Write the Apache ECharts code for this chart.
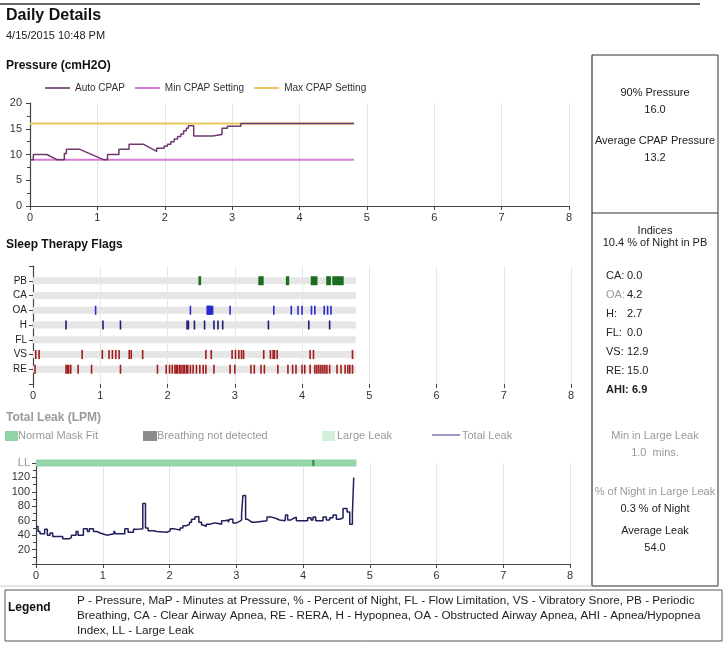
<!DOCTYPE html>
<html><head><meta charset="utf-8">
<script src="https://cdn.jsdelivr.net/npm/echarts@6/dist/echarts.min.js"></script>
<style>html,body{margin:0;padding:0;background:#fff}#c{width:728px;height:649px}</style>
</head><body><div id="c"></div>
<script>
// ---------- data ----------
const hourTicks = [0,1,2,3,4,5,6,7,8];
const autoCpap = [[0,9],[0.05,9],[0.05,10],[0.25,10],[0.40,9],[0.51,9],[0.51,10.2],[0.54,10.2],[0.54,11],[0.74,11],[1.09,9],[1.15,9],[1.15,10],[1.32,10],[1.32,11],[1.47,11],[1.47,12],[1.68,12],[1.88,10.6],[1.88,11.2],[1.99,11.2],[1.99,11.6],[2.04,11.6],[2.04,12.0],[2.09,12.0],[2.09,12.5],[2.14,12.5],[2.14,13.0],[2.19,13.0],[2.19,13.5],[2.24,13.5],[2.24,14.0],[2.28,14.0],[2.28,14.6],[2.32,14.6],[2.32,15.1],[2.35,15.1],[2.35,15.6],[2.43,15.6],[2.43,13.6],[2.71,13.6],[2.71,13.9],[2.85,13.9],[2.85,15.1],[2.93,15.1],[2.93,15.5],[3.13,15.5],[3.13,16],[4.81,16]];
const minCpap = [[0,9],[4.81,9]];
const maxCpap = [[0,16],[4.81,16]];

const flagRows = ['', 'RE','VS','FL','H','OA','CA','PB',' '];
const sessionSpan = [0, 4.8];
const pbEvents = [[2.46,2.50],[3.35,3.43],[3.76,3.81],[4.13,4.23],[4.36,4.43],[4.45,4.62]];
const oaEvents = [0.93,2.34,2.59,2.60,2.61,2.62,2.63,2.64,2.65,2.67,2.93,3.58,3.84,3.94,4.00,4.14,4.19,4.33,4.38,4.43];
const hEvents = [0.49,1.04,1.30,2.29,2.31,2.40,2.55,2.69,2.75,2.82,3.50,4.10,4.41];
const vsEvents = [0.04,0.09,0.73,1.03,1.13,1.18,1.23,1.28,1.43,1.46,1.63,2.57,2.65,2.96,3.01,3.06,3.10,3.13,3.43,3.53,3.57,3.59,3.63,4.12,4.17,4.75];
const reEvents = [0.03,0.49,0.51,0.53,0.56,0.67,0.87,1.30,1.85,1.98,2.03,2.07,2.11,2.13,2.15,2.18,2.20,2.23,2.25,2.28,2.30,2.34,2.38,2.43,2.48,2.53,2.57,2.69,2.93,3.00,3.24,3.29,3.39,3.44,3.64,3.79,3.86,3.91,4.00,4.04,4.12,4.19,4.22,4.25,4.28,4.31,4.34,4.37,4.41,4.52,4.58,4.64,4.68,4.71,4.75];

const leakTicks = [0,20,40,60,80,100,120,140];
const largeLeakLevel = 140;
const largeLeakEvents = [[4.14,4.17]];
const totalLeak = [[0,52],[0.03,45],[0.06,42],[0.13,48],[0.17,40],[0.21,43],[0.25,38],[0.40,35],[0.50,37],[0.53,40],[0.60,45],[0.63,40],[0.71,49],[0.77,45],[0.80,49],[0.86,45],[0.91,43],[0.96,41],[1.03,40],[1.06,42],[1.17,46],[1.19,42],[1.33,49],[1.38,44],[1.46,48],[1.51,49],[1.60,84],[1.64,50],[1.68,46],[1.76,45],[1.81,44],[1.96,46],[2.01,49],[2.06,48],[2.11,47],[2.16,50],[2.20,53],[2.25,55],[2.30,58],[2.33,62],[2.38,65],[2.40,66],[2.44,58],[2.48,54],[2.51,52],[2.55,55],[2.60,57],[2.68,56],[2.73,55],[2.78,60],[2.83,61],[2.88,58],[2.90,62],[2.95,57],[3.00,59],[3.05,61],[3.08,70],[3.10,95],[3.14,62],[3.17,60],[3.20,58],[3.23,56],[3.25,58],[3.28,60],[3.46,65],[3.53,63],[3.60,61],[3.65,60],[3.73,62],[3.74,68],[3.77,61],[3.82,63],[3.85,65],[3.90,60],[4.07,64],[4.12,61],[4.15,65],[4.19,60],[4.30,65],[4.35,61],[4.40,64],[4.45,68],[4.50,62],[4.55,64],[4.60,77],[4.66,72],[4.70,55],[4.74,70],[4.76,120],[4.77,120]];

const pressureStats = [['90% Pressure','16.0'],['Average CPAP Pressure','13.2']];
const pbPercentText = '10.4 % of Night in PB';
const indexNames = ['CA','OA','H','FL','VS','RE','AHI'];
const indexValues = ['0.0','4.2','2.7','0.0','12.9','15.0','6.9'];
const leakStats = [['Min in Large Leak','1.0  mins.'],['% of Night in Large Leak','0.3 % of Night'],['Average Leak','54.0']];
const legendLines = [
 'P - Pressure, MaP - Minutes at Pressure, % - Percent of Night, FL - Flow Limitation, VS - Vibratory Snore, PB - Periodic',
 'Breathing, CA - Clear Airway Apnea, RE - RERA, H - Hypopnea, OA - Obstructed Airway Apnea, AHI - Apnea/Hypopnea',
 'Index, LL - Large Leak'];

// ---------- chart ----------
const FONT = '"Liberation Sans", Arial, sans-serif';
const chart = echarts.init(document.getElementById('c'), null, {renderer:'canvas', width:728, height:649});

function xAx(grid){
  return {gridIndex:grid, type:'value', min:0, max:8, interval:1,
    axisLine:{lineStyle:{color:'#444', width:1.2}}, axisTick:{show:true, length:4, lineStyle:{color:'#444'}},
    axisLabel:{color:'#333', fontSize:11, fontFamily:FONT, margin:6},
    splitLine:{show:true, lineStyle:{color:'#e6e6e6'}}};
}
function rowIdx(n){ return flagRows.indexOf(n); }
function tickItem(color, h){
  return function(params, api){
    const p = api.coord([api.value(0), api.value(1)]);
    return {type:'rect', shape:{x:p[0]-0.75, y:p[1]-h/2, width:1.6, height:h}, style:{fill:color}};
  };
}
function spanItem(color, h){
  return function(params, api){
    const s = api.coord([api.value(0), api.value(2)]);
    const e = api.coord([api.value(1), api.value(2)]);
    return {type:'rect', shape:{x:s[0], y:s[1]-h/2, width:Math.max(e[0]-s[0],1.5), height:h}, style:{fill:color}};
  };
}
const bandRows = ['RE','VS','FL','H','OA','CA','PB'];

const txt = (x,y,text,opt={}) => ({type:'text', x:x, y:y, silent:true, style:Object.assign({text:text, font:'11px '+FONT, fill:'#222', textAlign:'left', textVerticalAlign:'middle', align:'left', verticalAlign:'middle'}, opt)});
const line = (x1,y1,x2,y2,color,w) => ({type:'line', silent:true, shape:{x1,y1,x2,y2}, style:{stroke:color, lineWidth:w||1}});

const graphics = [
  line(0,4,700,4,'#333',1.5),
  txt(6,16,'Daily Details',{font:'bold 16px '+FONT, fill:'#111'}),
  txt(6,36,'4/15/2015 10:48 PM',{font:'11px '+FONT}),
  txt(6,66,'Pressure (cmH2O)',{font:'bold 12px '+FONT, fill:'#111'}),
  txt(6,245,'Sleep Therapy Flags',{font:'bold 12px '+FONT, fill:'#111'}),
  txt(6,418,'Total Leak (LPM)',{font:'bold 12px '+FONT, fill:'#9a9a9a'}),
  // leak legend
  {type:'rect', silent:true, shape:{x:5,y:431,width:13,height:10}, style:{fill:'#8fd3a6'}},
  txt(18,436,'Normal Mask Fit',{fill:'#999'}),
  {type:'rect', silent:true, shape:{x:143,y:431,width:14,height:10}, style:{fill:'#8c8c8c'}},
  txt(157,436,'Breathing not detected',{fill:'#999'}),
  {type:'rect', silent:true, shape:{x:322,y:431,width:13,height:10}, style:{fill:'#d3f0dc'}},
  txt(337,436,'Large Leak',{fill:'#999'}),
  line(432,435,460,435,'#7a78b0',1.5),
  txt(462,436,'Total Leak',{fill:'#999'}),
  // right panel
  line(592,55,718,55,'#333',1.2),
  line(592,55,592,586,'#333',1.2),
  line(718,55,718,586,'#555',1.2),
  line(592,213,718,213,'#333',1.2),
  line(0,586,718,586,'#ccc',1),
  line(592,586,718,586,'#444',1.2),
  // legend box
  {type:'rect', silent:true, shape:{x:5,y:590,width:717,height:51}, style:{fill:'none', stroke:'#555', lineWidth:1}},
  txt(8,608,'Legend',{font:'bold 12px '+FONT, fill:'#111'})
];
pressureStats.forEach((s,i)=>{
  graphics.push(txt(655, 93+i*48, s[0], {textAlign:'center', align:'center'}));
  graphics.push(txt(655, 110+i*48, s[1], {textAlign:'center', align:'center'}));
});
graphics.push(txt(655,231,'Indices',{textAlign:'center', align:'center'}));
graphics.push(txt(655,243,pbPercentText,{textAlign:'center', align:'center'}));
indexNames.forEach((n,i)=>{
  const y = 276 + i*19;
  const bold = n === 'AHI';
  graphics.push(txt(606, y, n + ':', {fill: n==='OA' ? '#999' : '#222', font:(bold?'bold ':'')+'11px '+FONT}));
  graphics.push(txt(bold?632:627, y, indexValues[i], {font:(bold?'bold ':'')+'11px '+FONT}));
});
leakStats.forEach((s,i)=>{
  const y0 = [436, 492, 531][i];
  graphics.push(txt(655, y0, s[0], {textAlign:'center', align:'center', fill: i<2 ? '#999' : '#222'}));
  graphics.push(txt(655, y0+17, s[1], {textAlign:'center', align:'center', fill: i===0 ? '#999' : '#222'}));
});
legendLines.forEach((l,i)=>graphics.push(txt(77, 601+i*15, l, {font:'11.7px '+FONT})));

const option = {
  animation:false,
  backgroundColor:'#fff',
  textStyle:{fontFamily:FONT},
  graphic:graphics,
  legend:[{
    data:['Auto CPAP','Min CPAP Setting','Max CPAP Setting'],
    left:40, top:78, itemWidth:25, itemHeight:2, itemGap:10, icon:'rect',
    textStyle:{fontSize:10, color:'#333', fontFamily:FONT}
  }],
  grid:[
    {left:30, top:103, width:539, height:103},
    {left:33, top:266, width:538, height:118},
    {left:36, top:463, width:534, height:101}
  ],
  xAxis:[xAx(0), xAx(1), xAx(2)],
  yAxis:[
    {gridIndex:0, type:'value', min:0, max:20, interval:5,
      axisLine:{show:true, lineStyle:{color:'#444', width:1.2}}, axisTick:{show:true, length:4, lineStyle:{color:'#444'}},
      minorTick:{show:true, splitNumber:2, length:3, lineStyle:{color:'#444'}},
      axisLabel:{color:'#333', fontSize:11, fontFamily:FONT, margin:8}, splitLine:{show:false}},
    {gridIndex:1, type:'category', data:flagRows, boundaryGap:false,
      axisLine:{show:true, lineStyle:{color:'#444', width:1.2}}, axisTick:{show:true, length:4, lineStyle:{color:'#444'}},
      axisLabel:{color:'#222', fontSize:10, fontFamily:FONT, margin:6, interval:0}, splitLine:{show:false}},
    {gridIndex:2, type:'value', min:0, max:140, interval:20,
      axisLine:{show:true, lineStyle:{color:'#444', width:1.2}}, axisTick:{show:true, length:4, lineStyle:{color:'#444'}},
      minorTick:{show:true, splitNumber:2, length:3, lineStyle:{color:'#444'}},
      axisLabel:{fontSize:11, fontFamily:FONT, margin:6,
        formatter:v => v===largeLeakLevel ? 'LL' : (v===0 ? '' : String(v)),
        color:v => (Number(v)===largeLeakLevel || v==='LL') ? '#999' : '#333'},
      splitLine:{show:false}}
  ],
  series:[
    {name:'Max CPAP Setting', type:'line', xAxisIndex:0, yAxisIndex:0, data:maxCpap, symbol:'none', lineStyle:{color:'#e8c860', width:2}, itemStyle:{color:'#e8c860'}},
    {name:'Min CPAP Setting', type:'line', xAxisIndex:0, yAxisIndex:0, data:minCpap, symbol:'none', lineStyle:{color:'#d67dd6', width:2}, itemStyle:{color:'#d67dd6'}},
    {name:'Auto CPAP', type:'line', xAxisIndex:0, yAxisIndex:0, data:autoCpap, symbol:'none', lineStyle:{color:'#6e3a6e', width:1.5}, itemStyle:{color:'#8a5a8a'}, z:5},
    // flag bands
    {type:'custom', xAxisIndex:1, yAxisIndex:1, renderItem:spanItem('#e6e6e6',7), encode:{x:[0,1], y:2},
      data:bandRows.map(r=>[sessionSpan[0], sessionSpan[1], rowIdx(r)]), silent:true, z:1},
    {name:'PB', type:'custom', xAxisIndex:1, yAxisIndex:1, renderItem:spanItem('#1b6e1f',9), encode:{x:[0,1], y:2},
      data:pbEvents.map(e=>[e[0], e[1], rowIdx('PB')]), z:3},
    {name:'OA', type:'custom', xAxisIndex:1, yAxisIndex:1, renderItem:tickItem('#2a2ad0',9), encode:{x:0, y:1},
      data:oaEvents.map(t=>[t, rowIdx('OA')]), z:3},
    {name:'H', type:'custom', xAxisIndex:1, yAxisIndex:1, renderItem:tickItem('#1c1c70',9), encode:{x:0, y:1},
      data:hEvents.map(t=>[t, rowIdx('H')]), z:3},
    {name:'VS', type:'custom', xAxisIndex:1, yAxisIndex:1, renderItem:tickItem('#a21c1c',9), encode:{x:0, y:1},
      data:vsEvents.map(t=>[t, rowIdx('VS')]), z:3},
    {name:'RE', type:'custom', xAxisIndex:1, yAxisIndex:1, renderItem:tickItem('#a21c1c',9), encode:{x:0, y:1},
      data:reEvents.map(t=>[t, rowIdx('RE')]), z:3},
    // leak
    {name:'Normal Mask Fit', type:'custom', xAxisIndex:2, yAxisIndex:2, renderItem:spanItem('#94d6aa',7), encode:{x:[0,1], y:2},
      data:[[sessionSpan[0], sessionSpan[1], largeLeakLevel]], silent:true, z:1},
    {name:'Large Leak', type:'custom', xAxisIndex:2, yAxisIndex:2, renderItem:spanItem('#2a8a3a',6), encode:{x:[0,1], y:2},
      data:largeLeakEvents.map(e=>[e[0], e[1], largeLeakLevel]), z:3},
    {name:'Total Leak', type:'line', xAxisIndex:2, yAxisIndex:2, data:totalLeak, step:'end', symbol:'none',
      lineStyle:{color:'#1f1f5c', width:1.5}, z:4}
  ]
};
chart.setOption(option);
</script></body></html>
